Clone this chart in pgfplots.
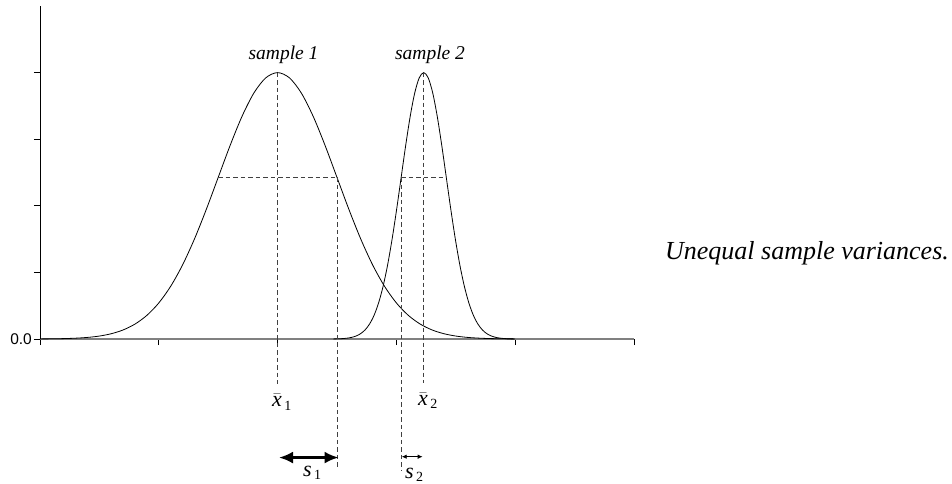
\documentclass[border=0pt]{standalone}
\usepackage{fontspec}
\setmainfont{Liberation Serif}
\setsansfont{Liberation Sans}
\usepackage{pgfplots}
\pgfplotsset{compat=1.18}
\usetikzlibrary{arrows.meta}

% curve heights: 4*exp(-k^2/2) for k = 0, 0.2, ..., 4 standard deviations
% sample 1: mean 2.00, sd 0.50   sample 2: mean 3.23, sd 0.19
\begin{document}
\begin{tikzpicture}
\begin{axis}[
  scale only axis,
  width=594pt, height=333pt,
  xmin=0, xmax=5, ymin=0, ymax=5,
  clip=false,
  axis lines=left,
  axis line style={-},
  x axis line style={draw=black!50, line width=1.3pt},
  y axis line style={draw=black, line width=0.8pt},
  xtick={0,1,2,3,4,5},
  xticklabels={},
  ytick={0,1,2,3,4},
  yticklabels={0.0,,,,},
  /pgf/number format/assume math mode=true,
  yticklabel style={font=\fontsize{15.5}{17}\selectfont\sffamily, inner xsep=2pt},
  tick align=outside,
  major tick length=6pt,
  tick style={black, line width=0.8pt},
  every axis plot/.append style={line width=0.8pt},
]
% sample 1
\addplot[black, smooth] coordinates {
 (0.0,0.0013) (0.1,0.0029) (0.2,0.0061) (0.3,0.0124) (0.4,0.0239)
 (0.5,0.0444) (0.6,0.0794) (0.7,0.1362) (0.8,0.2245) (0.9,0.3557)
 (1.0,0.5413) (1.1,0.7916) (1.2,1.1122) (1.3,1.5012) (1.4,1.9470)
 (1.5,2.4261) (1.6,2.9046) (1.7,3.3411) (1.8,3.6925) (1.9,3.9208)
 (2.0,4.0000)
 (2.1,3.9208) (2.2,3.6925) (2.3,3.3411) (2.4,2.9046) (2.5,2.4261)
 (2.6,1.9470) (2.7,1.5012) (2.8,1.1122) (2.9,0.7916) (3.0,0.5413)
 (3.1,0.3557) (3.2,0.2245) (3.3,0.1362) (3.4,0.0794) (3.5,0.0444)
 (3.6,0.0239) (3.7,0.0124) (3.8,0.0061) (3.9,0.0029) (4.0,0.0013)
};
% sample 2
\addplot[black, smooth] coordinates {
 (2.470,0.0013) (2.508,0.0029) (2.546,0.0061) (2.584,0.0124) (2.622,0.0239)
 (2.660,0.0444) (2.698,0.0794) (2.736,0.1362) (2.774,0.2245) (2.812,0.3557)
 (2.850,0.5413) (2.888,0.7916) (2.926,1.1122) (2.964,1.5012) (3.002,1.9470)
 (3.040,2.4261) (3.078,2.9046) (3.116,3.3411) (3.154,3.6925) (3.192,3.9208)
 (3.230,4.0000)
 (3.268,3.9208) (3.306,3.6925) (3.344,3.3411) (3.382,2.9046) (3.420,2.4261)
 (3.458,1.9470) (3.496,1.5012) (3.534,1.1122) (3.572,0.7916) (3.610,0.5413)
 (3.648,0.3557) (3.686,0.2245) (3.724,0.1362) (3.762,0.0794) (3.800,0.0444)
 (3.838,0.0239) (3.876,0.0124) (3.914,0.0061) (3.952,0.0029) (3.990,0.0013)
};
% mean and one-sd guides
\pgfplotsset{guide/.style={black!75, line width=0.7pt, dash pattern=on 4.5pt off 3pt}}
\addplot[guide] coordinates {(2.0,4.0) (2.0,-0.68)};
\addplot[guide] coordinates {(1.5,2.4261) (2.5,2.4261)};
\addplot[guide] coordinates {(2.5,2.4261) (2.5,-1.94)};
\addplot[guide] coordinates {(3.23,4.0) (3.23,-0.66)};
\addplot[guide] coordinates {(3.04,2.4261) (3.42,2.4261)};
\addplot[guide] coordinates {(3.04,2.4261) (3.04,-1.97)};
% standard deviation arrows
\addplot[black, line width=2.4pt, {Latex[length=14pt,width=12pt]}-{Latex[length=14pt,width=12pt]}]
  coordinates {(2.012,-1.78) (2.513,-1.78)};
\addplot[black, line width=0.8pt, {Latex[length=5pt,width=4.5pt]}-{Latex[length=5pt,width=4.5pt]}]
  coordinates {(3.045,-1.767) (3.221,-1.767)};
% labels
\node[anchor=base, font=\fontsize{19.5}{22}\selectfont\itshape] at (axis cs:2.05,4.2) {sample 1};
\node[anchor=base, font=\fontsize{19.5}{22}\selectfont\itshape] at (axis cs:3.283,4.2) {sample 2};
\node[anchor=base west, inner sep=0pt, font=\fontsize{22}{24}\selectfont] at (axis cs:1.953,-1.02)
  {$\bar{\textit{x}}_{\textup{\fontsize{14}{16}\selectfont\,1}}$};
\node[anchor=base west, inner sep=0pt, font=\fontsize{22}{24}\selectfont] at (axis cs:3.182,-1.0)
  {$\bar{\textit{x}}_{\textup{\fontsize{14}{16}\selectfont\,2}}$};
\node[anchor=base west, inner sep=0pt, font=\fontsize{22}{24}\selectfont] at (axis cs:2.214,-2.07)
  {$\textit{s}_{\textup{\fontsize{14}{16}\selectfont\,1}}$};
\node[anchor=base west, inner sep=0pt, font=\fontsize{22}{24}\selectfont] at (axis cs:3.072,-2.09)
  {$\textit{s}_{\textup{\fontsize{14}{16}\selectfont\,2}}$};
\node[anchor=base west, inner sep=0pt, font=\fontsize{26}{28}\selectfont\itshape] at (axis cs:5.26,1.2) {Unequal sample variances.};
\end{axis}
\pgfresetboundingbox
\path (-40pt,-144pt) rectangle (912pt,339pt);
\end{tikzpicture}
\end{document}
